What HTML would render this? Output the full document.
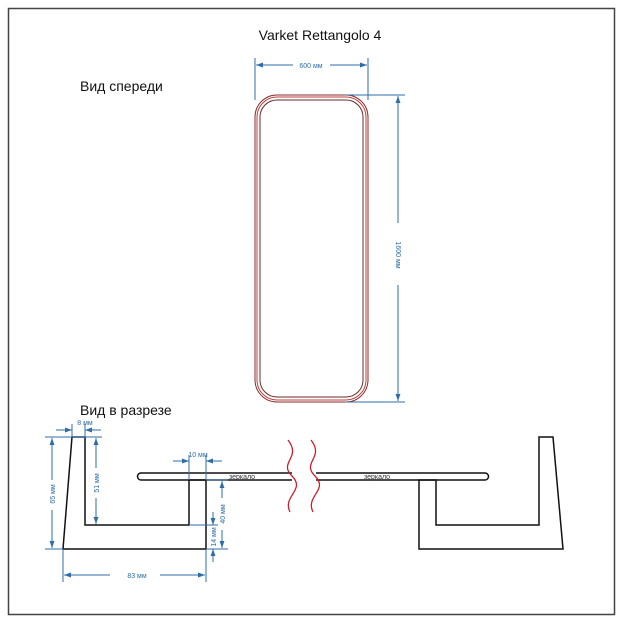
<!DOCTYPE html>
<html><head><meta charset="utf-8"><style>
html,body{margin:0;padding:0;background:#fff}
svg{display:block}
text{font-family:"Liberation Sans",sans-serif}
</style></head><body>
<svg width="624" height="624" viewBox="0 0 624 624" xmlns="http://www.w3.org/2000/svg">
<defs>
<marker id="a" viewBox="0 0 10 10" refX="10" refY="5" markerWidth="7" markerHeight="7" orient="auto-start-reverse"><path d="M0,1.5 L10,5 L0,8.5 z" fill="#2d6ea8"/></marker>
</defs>
<rect x="8.5" y="8.5" width="606" height="606" fill="none" stroke="#444" stroke-width="1.5"/>
<text x="320" y="40" font-size="14" text-anchor="middle" fill="#111">Varket Rettangolo 4</text>
<text x="80" y="91" font-size="14" fill="#111">Вид спереди</text>
<text x="80" y="415" font-size="14" fill="#111">Вид в разрезе</text>

<!-- front view -->
<rect x="255" y="95" width="113" height="307" rx="22" fill="none" stroke="#8b2b2b" stroke-width="1"/>
<rect x="257" y="97" width="109" height="303" rx="20" fill="none" stroke="#c04040" stroke-width="1"/>
<rect x="260" y="100" width="103" height="297" rx="17" fill="none" stroke="#6b2a2a" stroke-width="1"/>

<g stroke="#2d6ea8" stroke-width="1" fill="none">
<line x1="255" y1="58" x2="255" y2="100"/>
<line x1="368" y1="58" x2="368" y2="100"/>
<line x1="256" y1="65" x2="293" y2="65" marker-start="url(#a)"/>
<line x1="330" y1="65" x2="367" y2="65" marker-end="url(#a)"/>
<line x1="345" y1="95" x2="405" y2="95"/>
<line x1="345" y1="402" x2="405" y2="402"/>
<line x1="398" y1="96" x2="398" y2="223" marker-start="url(#a)"/>
<line x1="398" y1="285" x2="398" y2="401" marker-end="url(#a)"/>
</g>
<text x="311" y="68" font-size="7" text-anchor="middle" fill="#2d6ea8">600 мм</text>
<text transform="translate(396,255) rotate(90)" font-size="7" text-anchor="middle" fill="#2d6ea8">1600 мм</text>

<!-- section -->
<g stroke="#111" stroke-width="1.5" fill="none">
<polygon points="72,437 85,437 85,525 189,525 189,480 206,480 206,549 63,549"/>
<polygon points="539,437 553,437 563,549 419,549 419,480 436,480 436,525 539,525"/>
<path d="M292,473 L141,473 A3.5,3.5 0 0 0 141,480 L292,480"/>
<path d="M316,473 L485,473 A3.5,3.5 0 0 1 485,480 L316,480"/>
</g>
<g stroke="#c8202a" stroke-width="1.3" fill="none">
<path d="M288,440 C302,458 278,462 292,476 C306,490 282,496 290,512"/>
<path d="M311,440 C325,458 301,462 315,476 C329,490 305,496 313,512"/>
</g>
<text x="242" y="479" font-size="7" text-anchor="middle" fill="#333">зеркало</text>
<text x="377" y="479" font-size="7" text-anchor="middle" fill="#333">зеркало</text>

<g stroke="#2d6ea8" stroke-width="1" fill="none">
<line x1="72" y1="424" x2="72" y2="437"/>
<line x1="85" y1="424" x2="85" y2="437"/>
<line x1="56" y1="430" x2="72" y2="430" marker-end="url(#a)"/>
<line x1="101" y1="430" x2="85" y2="430" marker-end="url(#a)"/>
<line x1="45" y1="437" x2="102" y2="437"/>
<line x1="45" y1="549" x2="63" y2="549"/>
<line x1="52" y1="438" x2="52" y2="480" marker-start="url(#a)"/>
<line x1="52" y1="510" x2="52" y2="548" marker-end="url(#a)"/>
<line x1="96" y1="438" x2="96" y2="468" marker-start="url(#a)"/>
<line x1="96" y1="498" x2="96" y2="524" marker-end="url(#a)"/>
<line x1="63" y1="549" x2="63" y2="582"/>
<line x1="206" y1="549" x2="206" y2="582"/>
<line x1="64" y1="575" x2="110" y2="575" marker-start="url(#a)"/>
<line x1="160" y1="575" x2="205" y2="575" marker-end="url(#a)"/>
<line x1="189" y1="455" x2="189" y2="480"/>
<line x1="206" y1="455" x2="206" y2="480"/>
<line x1="173" y1="461" x2="189" y2="461" marker-end="url(#a)"/>
<line x1="222" y1="461" x2="206" y2="461" marker-end="url(#a)"/>
<line x1="206" y1="480" x2="228" y2="480"/>
<line x1="189" y1="525" x2="218" y2="525"/>
<line x1="206" y1="549" x2="228" y2="549"/>
<line x1="222" y1="481" x2="222" y2="498" marker-start="url(#a)"/>
<line x1="222" y1="530" x2="222" y2="548" marker-end="url(#a)"/>
<line x1="213" y1="512" x2="213" y2="525" marker-end="url(#a)"/>
<line x1="213" y1="562" x2="213" y2="549" marker-end="url(#a)"/>
</g>
<g font-size="7" fill="#2d6ea8" text-anchor="middle">
<text x="85" y="425">8 мм</text>
<text x="198" y="457">10 мм</text>
<text x="137" y="578">83 мм</text>
<text transform="translate(55,494) rotate(-90)">65 мм</text>
<text transform="translate(99,483) rotate(-90)">51 мм</text>
<text transform="translate(225,514) rotate(-90)">40 мм</text>
<text transform="translate(216,537) rotate(-90)">14 мм</text>
</g>
</svg>
</body></html>
